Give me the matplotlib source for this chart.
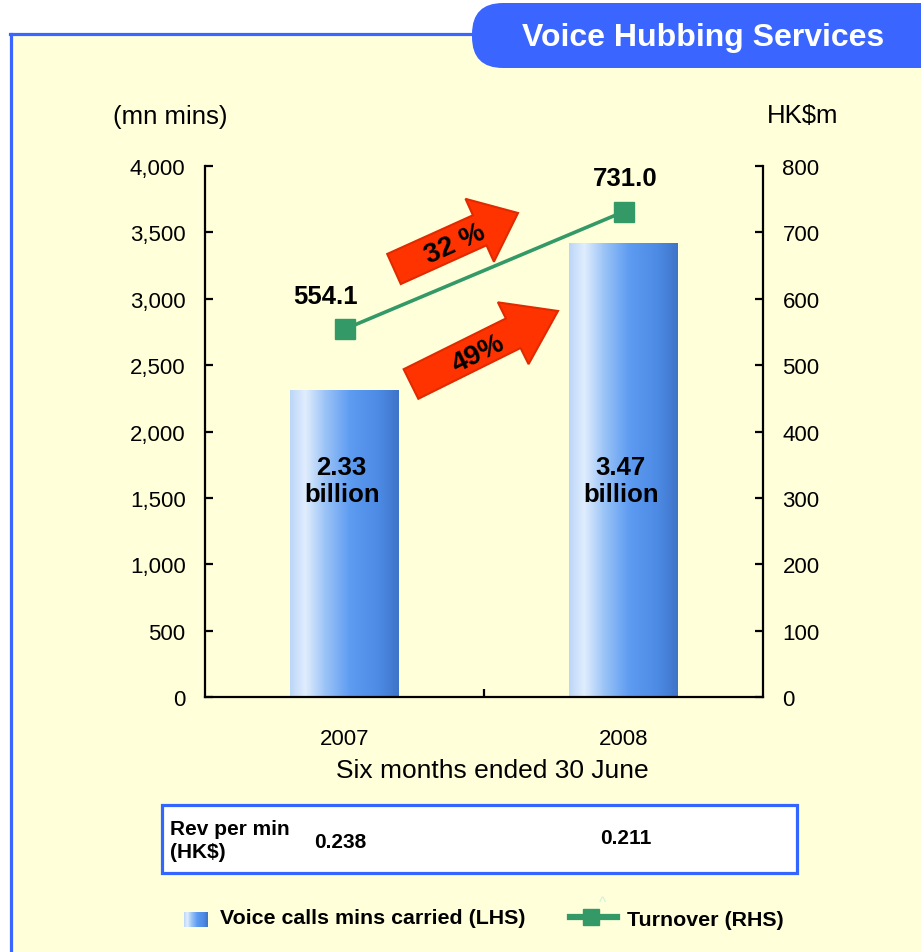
import numpy as np
import matplotlib
matplotlib.use("Agg")
import matplotlib.pyplot as plt
from matplotlib.colors import LinearSegmentedColormap
from matplotlib.patches import Rectangle, FancyArrow, FancyBboxPatch
from matplotlib.lines import Line2D
from matplotlib.transforms import IdentityTransform
from matplotlib.ticker import FuncFormatter

plt.rcParams['font.family'] = ['Liberation Sans', 'DejaVu Sans']

# data
years = ['2007', '2008']
minutes = [2310, 3415]          # mn mins (LHS), as drawn
minute_labels = ['2.33\nbillion', '3.47\nbillion']
turnover = [554.1, 731.0]       # HK$m (RHS)
rev_per_min = ['0.238', '0.211']
growth = ['32 %', '49%']

W, H = 921, 953
def fx(x):
    return x / W
def fy(y):
    return 1 - y / H

green = '#339966'
blue = '#3A66FF'
bar_cmap = LinearSegmentedColormap.from_list(
    'bar', [(0, '#BCD6F8'), (0.14, '#E0EDFD'), (0.32, '#9CC4F6'),
            (0.55, '#5E9CF2'), (0.82, '#4C8AE4'), (1.0, '#3F74C8')])
grad = np.linspace(0, 1, 256).reshape(1, -1)

fig = plt.figure(figsize=(9.21, 9.53), dpi=100, facecolor='white')
pix = IdentityTransform()

# background panel
fig.add_artist(Rectangle((fx(10), 0), 1, fy(35), transform=fig.transFigure,
                         fc='#FFFFDA', ec='none', zorder=-3))
fig.add_artist(Line2D([fx(10.5), fx(10.5)], [0, fy(35)], color=blue, lw=2.3, zorder=-2))
fig.add_artist(Line2D([fx(10), fx(480)], [fy(35), fy(35)], color=blue, lw=2.3, zorder=-2))
fig.add_artist(FancyBboxPatch((472, H - 69), 480, 65,
                              boxstyle='round,pad=0,rounding_size=31',
                              transform=pix, fc=blue, ec='none', zorder=-1))
fig.text(fx(703), fy(38), 'Voice Hubbing Services', color='white',
         fontsize=23, fontweight='bold', ha='center', va='center')

# main axes
ax = fig.add_axes([fx(205), fy(698), fx(763) - fx(205), fy(167) - fy(698)])
ax.set_facecolor('none')
x = np.arange(len(years))
bars = ax.bar(x, minutes, width=0.39, color='none', edgecolor='none')
for b in bars:
    ax.imshow(grad, cmap=bar_cmap, aspect='auto', zorder=2,
              extent=[b.get_x(), b.get_x() + b.get_width(), 0, b.get_height()])
for i, lab in enumerate(minute_labels):
    ax.text(x[i] - 0.01, 1630, lab, ha='center', va='center', fontsize=18.5,
            fontweight='bold', linespacing=1.15, zorder=4)

ax.set_xlim(-0.5, 1.5)
ax.set_ylim(0, 4000)
ax.set_yticks(np.arange(0, 4001, 500))
ax.yaxis.set_major_formatter(FuncFormatter(lambda v, p: f'{v:,.0f}'))
ax.set_xticks(x, years)
ax.set_xticks([0.5], minor=True)
for s in ['top', 'right']:
    ax.spines[s].set_visible(False)
for s in ['left', 'bottom']:
    ax.spines[s].set_linewidth(1.6)
ax.tick_params(axis='y', direction='in', length=6, width=1.6, pad=14, labelsize=16)
ax.tick_params(axis='x', which='major', length=0, pad=22, labelsize=16)
ax.tick_params(axis='x', which='minor', direction='in', length=6, width=1.6)

ax2 = ax.twinx()
ax2.set_ylim(0, 800)
ax2.set_yticks(np.arange(0, 801, 100))
for s in ['top', 'left', 'bottom']:
    ax2.spines[s].set_visible(False)
ax2.spines['right'].set_linewidth(1.6)
ax2.tick_params(axis='y', direction='in', length=6, width=1.6, pad=14, labelsize=16)
ax2.plot(x, turnover, color=green, lw=2.6, marker='s', ms=15, zorder=3)
ax2.annotate(f'{turnover[0]:.1f}', (x[0], turnover[0]), xytext=(-14, 24),
             textcoords='offset points', ha='center', va='center',
             fontsize=18.5, fontweight='bold')
ax2.annotate(f'{turnover[1]:.1f}', (x[1], turnover[1]), xytext=(1, 24),
             textcoords='offset points', ha='center', va='center',
             fontsize=18.5, fontweight='bold')

fig.text(fx(170), fy(117), '(mn mins)', fontsize=18.5, ha='center', va='center')
fig.text(fx(803), fy(116), 'HK$m', fontsize=18.5, ha='center', va='center')
fig.text(fx(492), fy(771), 'Six months ended 30 June', fontsize=19,
         ha='center', va='center')

# growth arrows
arrows = [((394, 270), (518, 214), 42), ((411, 385), (558, 312), 50)]
text_pos = [(455, 245), (478, 354)]
for (t, h, hl), lab, tp in zip(arrows, growth, text_pos):
    dx, dy = h[0] - t[0], -(h[1] - t[1])
    fig.add_artist(FancyArrow(t[0], H - t[1], dx, dy, width=33, head_width=69,
                              head_length=hl, length_includes_head=True,
                              transform=pix, fc='#FF3300', ec='#E02A00', lw=1.5,
                              zorder=4))
    ang = np.degrees(np.arctan2(dy, dx))
    fig.text(fx(tp[0]), fy(tp[1]), lab, rotation=ang, rotation_mode='anchor',
             ha='center', va='center', fontsize=20, fontweight='bold', zorder=5)

# rev per min box
fig.add_artist(Rectangle((162, H - 874), 635, 68, transform=pix, fc='white',
                         ec='#3366FF', lw=2.3, zorder=1))
fig.text(fx(170), fy(841), 'Rev per min\n(HK$)', fontsize=15, fontweight='bold',
         ha='left', va='center', linespacing=1.25, zorder=2)
fig.text(fx(340), fy(843), rev_per_min[0], fontsize=15, fontweight='bold',
         ha='center', va='center', zorder=2)
fig.text(fx(626), fy(838), rev_per_min[1], fontsize=15, fontweight='bold',
         ha='center', va='center', zorder=2)

# legend
lax = fig.add_axes([fx(184), fy(928), fx(208) - fx(184), fy(913) - fy(928)])
lax.imshow(grad, cmap=bar_cmap, aspect='auto')
lax.axis('off')
fig.text(fx(220), fy(919), 'Voice calls mins carried (LHS)', fontsize=15.4,
         fontweight='bold', ha='left', va='center')
fig.add_artist(Line2D([fx(570), fx(617)], [fy(918), fy(918)], color=green, lw=4.5))
fig.add_artist(Line2D([fx(590.5)], [fy(918)], color=green, marker='s', ms=11, lw=0))
fig.text(fx(602), fy(903), '^', color='#CCF2DA', fontsize=11, ha='center', va='center')
fig.text(fx(627), fy(921), 'Turnover (RHS)', fontsize=15.4, fontweight='bold',
         ha='left', va='center')

fig.savefig('out.png', dpi=100)
